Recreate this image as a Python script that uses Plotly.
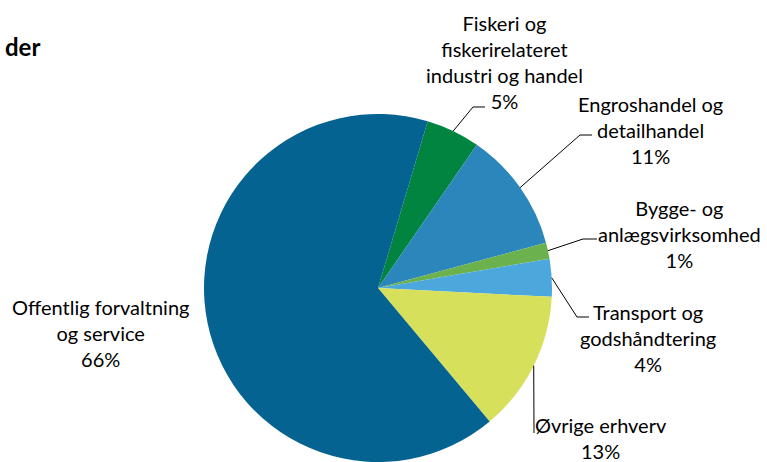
import math
import plotly.graph_objects as go

# ---- data ----
categories = [
    "Fiskeri og fiskerirelateret industri og handel",
    "Engroshandel og detailhandel",
    "Bygge- og anlægsvirksomhed",
    "Transport og godshåndtering",
    "Øvrige erhverv",
    "Offentlig forvaltning og service",
]
values = [5.0, 11.2, 1.5, 3.5, 13.1, 65.7]
label_texts = [
    "Fiskeri og<br>fiskerirelateret<br>industri og handel<br>5%",
    "Engroshandel og<br>detailhandel<br>11%",
    "Bygge- og<br>anlægsvirksomhed<br>1%",
    "Transport og<br>godshåndtering<br>4%",
    "Øvrige erhverv<br>13%",
    "Offentlig forvaltning<br>og service<br>66%",
]
colors = ["#00843F", "#2A86BB", "#6BB24F", "#4CA7DD", "#D7E05B", "#056392"]
title_text = "der"

# ---- layout constants (pixels) ----
W, H = 767, 462
CX, CY, R = 378, 288, 174
ROTATION = 16.6
# label centre positions (px)
label_pos = [(504, 62), (650, 130), (679, 234), (648, 338), (601, 438), (100, 333)]
# elbow points for leader lines (px): (elbow, end) or None
elbows = [
    ((473, 107), (485, 107)),
    ((580, 135), (592, 135)),
    ((583, 239), (597, 239)),
    ((577, 317), (589, 317)),
    ((534, 433), None),
    None,
]


def px(x, y):
    return x / W, 1 - y / H


fig = go.Figure(
    go.Pie(
        labels=categories,
        values=values,
        sort=False,
        direction="clockwise",
        rotation=ROTATION,
        marker=dict(colors=colors, line=dict(width=0)),
        textinfo="none",
        hoverinfo="skip",
        showlegend=False,
        domain=dict(x=[(CX - R) / W, (CX + R) / W], y=[0, 2 * R / H]),
    )
)

total = sum(values)
shapes = []
annotations = []
cum = 0.0
for i, v in enumerate(values):
    mid = ROTATION + (cum + v / 2) / total * 360
    cum += v
    a = math.radians(mid)
    sx, sy = CX + R * math.sin(a), CY - R * math.cos(a)
    if elbows[i] is not None:
        pts = [(sx, sy), elbows[i][0]]
        if elbows[i][1] is not None:
            pts.append(elbows[i][1])
        path = ""
        for j, (x, y) in enumerate(pts):
            pxx, pyy = px(x, y)
            path += ("M" if j == 0 else " L") + f" {pxx:.5f},{pyy:.5f}"
        shapes.append(dict(type="path", xref="paper", yref="paper", path=path,
                           line=dict(color="#000000", width=1)))
    lx, ly = px(*label_pos[i])
    annotations.append(dict(
        text=label_texts[i], x=lx, y=ly, xref="paper", yref="paper",
        xanchor="center", yanchor="middle", showarrow=False, align="center",
        font=dict(family="Lato", size=20, color="#000000"),
    ))

annotations.append(dict(
    text=f"<b>{title_text}</b>", x=42 / W, y=1 - 47 / H, xref="paper", yref="paper",
    xanchor="right", yanchor="middle", showarrow=False,
    font=dict(family="Lato", size=24, color="#000000"),
))

fig.update_layout(
    width=W, height=H,
    margin=dict(l=0, r=0, t=0, b=0),
    paper_bgcolor="white",
    plot_bgcolor="white",
    shapes=shapes,
    annotations=annotations,
)

fig.write_html(
    "out.html",
    config={"displayModeBar": False},
    post_script="document.body.style.margin='0';document.body.style.overflow='hidden';",
)
